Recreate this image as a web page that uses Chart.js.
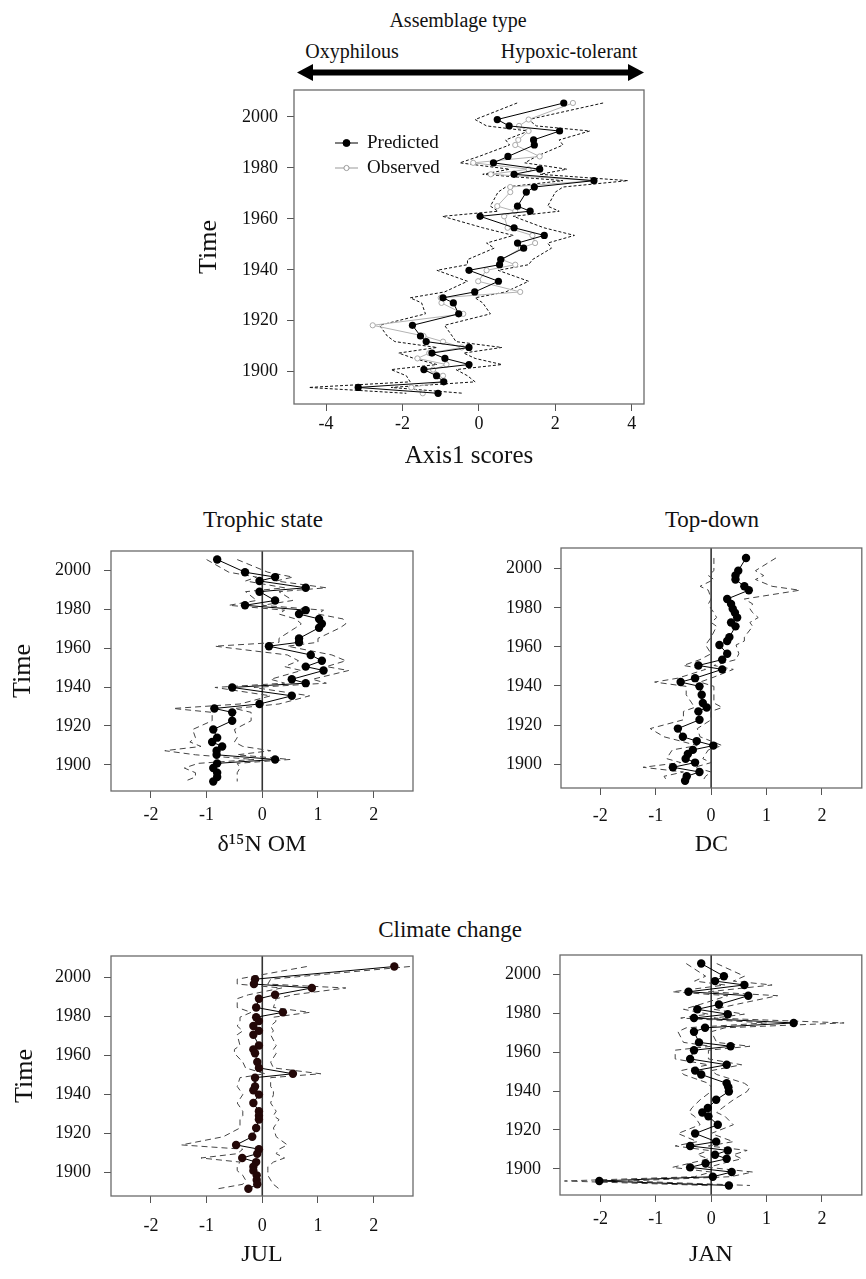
<!DOCTYPE html>
<html>
<head>
<meta charset="utf-8">
<script src="https://cdn.jsdelivr.net/npm/chart.js@4.4.1/dist/chart.umd.min.js"></script>
<style>
  body { margin: 0; background: #fff; width: 866px; height: 1279px; position: relative; overflow: hidden;
         font-family: "Liberation Serif", "Times New Roman", serif; }
  canvas { position: absolute; }
  .lbl { position: absolute; transform: translate(-50%, -50%); white-space: nowrap; color: #111; }
</style>
</head>
<body>
<div class="lbl" style="left:458px;top:20px;font-size:20px">Assemblage type</div>
<div class="lbl" style="left:352px;top:51px;font-size:20px">Oxyphilous</div>
<div class="lbl" style="left:569px;top:51px;font-size:20px">Hypoxic-tolerant</div>
<svg style="position:absolute;left:0;top:0" width="866" height="100">
  <path d="M297,72.5 L313,64 L313,69.5 L628,69.5 L628,64 L644,72.5 L628,81 L628,75.5 L313,75.5 L313,81 Z" fill="#000"/>
</svg>
<div class="lbl" style="left:263px;top:520px;font-size:23px">Trophic state</div>
<div class="lbl" style="left:712px;top:520px;font-size:23px">Top-down</div>
<div class="lbl" style="left:450px;top:930px;font-size:23px">Climate change</div>

<canvas id="cAxis" width="490" height="415" style="left:170px;top:60px"></canvas>
<canvas id="cTroph" width="430" height="370" style="left:0px;top:500px"></canvas>
<canvas id="cTop" width="416" height="370" style="left:450px;top:500px"></canvas>
<canvas id="cJul" width="430" height="379" style="left:0px;top:900px"></canvas>
<canvas id="cJan" width="416" height="379" style="left:450px;top:900px"></canvas>

<script>
// sampling years (shared by all panels)
var years = [2005.5, 1999, 1996.5, 1994.5, 1991, 1989, 1984.5, 1982, 1979.5, 1977.5,
             1975, 1972.5, 1970.5, 1965, 1963, 1961, 1956.5, 1953.5, 1950.5, 1948.5,
             1944, 1942, 1939.8, 1935.5, 1931.3, 1929, 1927, 1922.7, 1918.2, 1914,
             1911.8, 1909.5, 1907.3, 1905.2, 1902.8, 1900.8, 1898.4, 1896, 1893.8, 1891.5];

// Assemblage type (Axis1 scores)
var axis1Pred = [2.22, 0.48, 0.79, 2.11, 1.43, 1.45, 0.76, 0.38, 1.59, 0.92,
                 3.01, 1.45, 1.24, 1.01, 1.34, 0.03, 0.92, 1.71, 1.01, 1.17,
                 0.57, 0.54, -0.26, 0.51, -0.11, -0.94, -0.67, -0.53, -1.74, -1.53,
                 -1.38, -0.26, -1.23, -0.89, -0.26, -1.44, -1.11, -0.92, -3.16, -1.07];
var axis1Obs = [2.46, 1.30, 1.05, 1.30, 1.03, 0.95, 1.59, -0.15, 1.30, 0.31,
                3.01, 0.82, 0.82, 0.48, 0.95, 0.66, 0.75, 1.40, 1.47, 1.10,
                0.60, 0.95, 0.20, -0.02, 1.08, -1.00, -0.98, -0.41, -2.78, -1.45,
                -0.94, -0.45, -1.30, -1.61, -0.85, -1.20, -0.94, -0.95, -1.77, -1.47];
var axis1Lo = [1.00, -0.10, 0.20, 1.30, 0.70, 0.80, 0.00, -0.50, 0.80, 0.10,
               2.20, 0.70, 0.50, 0.30, 0.50, -0.95, 0.10, 0.90, 0.20, 0.40,
               -0.30, -0.30, -1.10, -0.30, -0.90, -1.80, -1.50, -1.40, -2.60, -2.40,
               -2.20, -1.10, -2.10, -1.70, -1.10, -2.30, -1.90, -1.80, -4.45, -1.90];
var axis1Hi = [3.25, 1.30, 1.50, 2.90, 2.10, 2.20, 1.50, 1.20, 2.30, 1.60,
               3.90, 2.20, 2.00, 1.80, 2.10, 0.90, 1.70, 2.50, 1.80, 1.90,
               1.40, 1.30, 0.50, 1.30, 0.70, -0.10, 0.10, 0.30, -0.90, -0.70,
               -0.60, 0.60, -0.40, -0.10, 0.60, -0.60, -0.30, -0.10, -2.30, -0.40];

// Trophic state (d15N OM)
var d15nPred = [-0.81, -0.31, 0.23, -0.05, 0.78, -0.05, 0.23, -0.31, 0.78, 0.66,
                1.02, 1.07, 1.02, 0.66, 0.66, 0.12, 0.87, 1.07, 0.78, 1.10,
                0.53, 0.78, -0.54, 0.53, -0.05, -0.86, -0.54, -0.54, -0.88, -0.81,
                -0.90, -0.72, -0.82, -0.82, 0.23, -0.81, -0.88, -0.81, -0.81, -0.88];
var d15nLo = [-1.00, -0.60, -0.10, -0.30, 0.40, -0.30, -0.10, -0.60, 0.40, 0.30,
              0.60, 0.70, 0.60, 0.30, 0.30, -0.85, 0.45, 0.65, 0.40, 0.70,
              0.15, 0.40, -0.85, 0.15, -0.40, -1.60, -0.90, -0.90, -1.25, -1.20,
              -1.30, -1.10, -1.75, -1.20, -0.15, -1.15, -1.40, -1.20, -1.20, -1.40];
var d15nHi = [-0.45, 0.10, 0.55, 0.25, 1.15, 0.30, 0.55, 0.00, 1.10, 1.00,
              1.45, 1.50, 1.40, 1.00, 1.00, 0.45, 1.25, 1.50, 1.15, 1.55,
              0.90, 1.15, -0.15, 0.85, 0.30, -0.50, -0.20, -0.20, -0.50, -0.45,
              -0.50, -0.35, 0.15, -0.45, 0.50, -0.45, -0.40, -0.45, -0.45, -0.45];

// Top-down (DC)
var dcPred = [0.63, 0.49, 0.44, 0.44, 0.60, 0.68, 0.29, 0.36, 0.39, 0.43,
              0.47, 0.36, 0.44, 0.33, 0.29, 0.15, 0.29, 0.20, -0.23, 0.20,
              -0.29, -0.55, -0.21, -0.17, -0.15, -0.08, -0.23, -0.21, -0.60, -0.51,
              -0.26, 0.04, -0.33, -0.42, -0.46, -0.29, -0.69, -0.21, -0.44, -0.47];
var dcLo = [0.05, 0.05, -0.05, 0.05, -0.20, -0.05, 0.00, -0.05, 0.00, 0.05,
            0.10, 0.00, 0.10, 0.00, -0.05, -0.10, 0.00, -0.20, -0.50, -0.10,
            -0.60, -1.02, -0.45, -0.45, -0.35, -0.30, -0.50, -0.50, -1.10, -0.85,
            -0.55, -0.25, -0.70, -0.75, -0.80, -0.55, -1.23, -0.50, -0.85, -0.80];
var dcHi = [1.17, 0.80, 0.95, 0.80, 1.10, 1.60, 0.60, 0.75, 0.70, 0.75,
            0.85, 0.70, 0.75, 0.60, 0.60, 0.45, 0.50, 0.45, 0.05, 0.40,
            0.00, -0.20, 0.05, 0.05, 0.05, 0.20, 0.00, 0.00, -0.25, -0.20,
            0.00, 0.20, -0.05, -0.10, -0.15, 0.00, -0.30, 0.00, -0.10, -0.15];

// Climate change (JUL)
var julPred = [2.37, -0.13, -0.15, 0.89, 0.23, -0.06, -0.11, 0.37, -0.11, -0.06,
               -0.16, -0.06, -0.16, -0.06, -0.16, -0.13, -0.09, -0.06, 0.55, -0.13,
               -0.13, -0.16, -0.06, -0.16, -0.06, -0.06, -0.06, -0.11, -0.18, -0.47,
               -0.06, -0.09, -0.36, -0.11, -0.16, -0.16, -0.10, -0.10, -0.09, -0.25];
var julLo = [0.80, -0.45, -0.45, 0.35, -0.25, -0.45, -0.45, -0.20, -0.40, -0.40,
             -0.45, -0.35, -0.45, -0.40, -0.50, -0.50, -0.35, -0.30, 0.05, -0.40,
             -0.45, -0.40, -0.35, -0.45, -0.35, -0.35, -0.40, -0.40, -0.70, -1.45,
             -0.35, -0.45, -1.10, -0.40, -0.45, -0.45, -0.35, -0.30, -0.35, -0.80];
var julHi = [2.65, 0.15, 0.10, 1.50, 0.55, 0.25, 0.20, 0.85, 0.20, 0.25,
             0.15, 0.20, 0.15, 0.25, 0.20, 0.25, 0.15, 0.20, 1.05, 0.15,
             0.15, 0.20, 0.20, 0.15, 0.25, 0.20, 0.30, 0.20, 0.25, 0.45,
             0.30, 0.25, 0.40, 0.20, 0.10, 0.10, 0.10, 0.15, 0.20, 0.30];

// Climate change (JAN)
var janPred = [-0.18, 0.23, 0.07, 0.60, -0.41, 0.67, 0.14, -0.25, 0.30, -0.31,
               1.49, -0.11, -0.31, -0.22, 0.35, -0.31, -0.38, 0.28, -0.29, -0.18,
               0.28, 0.31, 0.32, 0.09, -0.06, -0.16, -0.05, 0.12, -0.29, 0.09,
               -0.38, 0.30, 0.07, 0.28, -0.10, -0.38, 0.37, 0.03, -2.02, 0.32];
var janLo = [-0.45, -0.10, -0.30, 0.25, -0.70, 0.30, -0.20, -0.50, -0.05, -0.55,
             1.00, -0.45, -0.60, -0.50, 0.00, -0.65, -0.65, -0.05, -0.55, -0.50,
             -0.05, 0.00, 0.00, -0.20, -0.35, -0.40, -0.30, -0.20, -0.60, -0.25,
             -0.65, -0.05, -0.25, -0.05, -0.40, -0.70, 0.00, -0.30, -2.65, -0.05];
var janHi = [0.10, 0.60, 0.40, 1.10, -0.05, 1.20, 0.45, 0.05, 0.60, 0.05,
             2.40, 0.25, 0.00, 0.10, 0.70, -0.05, -0.05, 0.55, 0.00, 0.10,
             0.60, 0.70, 0.65, 0.40, 0.20, 0.10, 0.25, 0.40, 0.00, 0.40,
             -0.05, 0.65, 0.40, 0.55, 0.20, -0.05, 0.75, 0.35, -1.50, 0.70];

var serif = '"Liberation Serif", "Times New Roman", serif';

function pts(vals) {
  return vals.map(function (v, i) { return { x: v, y: years[i] }; });
}

var framePlugin = {
  id: 'frame',
  afterDatasetsDraw: function (chart) {
    var a = chart.chartArea, c = chart.ctx;
    c.save();
    c.strokeStyle = '#6a6a6a';
    c.lineWidth = 1.3;
    c.strokeRect(a.left, a.top, a.right - a.left, a.bottom - a.top);
    c.restore();
  }
};

var zeroPlugin = {
  id: 'zeroLine',
  beforeDatasetsDraw: function (chart) {
    var a = chart.chartArea, c = chart.ctx;
    var x0 = chart.scales.x.getPixelForValue(0);
    c.save();
    c.strokeStyle = '#333';
    c.lineWidth = 1.6;
    c.beginPath();
    c.moveTo(x0, a.top);
    c.lineTo(x0, a.bottom);
    c.stroke();
    c.restore();
  }
};

var legendPlugin = {
  id: 'innerLegend',
  afterDraw: function (chart) {
    var a = chart.chartArea, c = chart.ctx;
    var rows = [
      { text: 'Predicted', color: '#000', fill: '#000', y: a.top + 53 },
      { text: 'Observed', color: '#999', fill: '#fff', y: a.top + 78 }
    ];
    c.save();
    rows.forEach(function (r) {
      c.strokeStyle = r.color;
      c.lineWidth = 1;
      c.beginPath();
      c.moveTo(a.left + 41, r.y);
      c.lineTo(a.left + 64, r.y);
      c.stroke();
      c.beginPath();
      c.arc(a.left + 52.5, r.y, r.fill === '#000' ? 3.5 : 2.6, 0, Math.PI * 2);
      c.fillStyle = r.fill;
      c.fill();
      c.stroke();
      c.fillStyle = '#111';
      c.font = '19px ' + serif;
      c.textBaseline = 'middle';
      c.fillText(r.text, a.left + 73, r.y);
    });
    c.restore();
  }
};

function panel(id, o) {
  var ds = [{
    data: pts(o.pred), showLine: true, borderColor: '#000', backgroundColor: o.dot,
    borderWidth: 1, pointRadius: o.r, pointBorderWidth: 0, order: 0
  }];
  if (o.obs) {
    ds.push({
      data: pts(o.obs), showLine: true, borderColor: '#b3b3b3', backgroundColor: '#fff',
      borderWidth: 1, pointRadius: 2.6, pointBorderWidth: 1, pointBorderColor: '#aaa', order: 1
    });
  }
  [o.lo, o.hi].forEach(function (band) {
    ds.push({
      data: pts(band), showLine: true, borderColor: o.dashColor, borderWidth: 1,
      borderDash: o.dash, pointRadius: 0, order: 2
    });
  });

  var plugins = [framePlugin];
  if (o.zero) plugins.push(zeroPlugin);
  if (o.legend) plugins.push(legendPlugin);

  new Chart(document.getElementById(id), {
    type: 'scatter',
    data: { datasets: ds },
    options: {
      responsive: false,
      animation: false,
      devicePixelRatio: 1,
      layout: { padding: { top: o.padTop, right: o.padRight, bottom: 0, left: 0 } },
      plugins: { legend: { display: false }, tooltip: { enabled: false } },
      scales: {
        x: {
          type: 'linear', min: o.xmin, max: o.xmax,
          afterFit: function (s) { s.height = o.xh; },
          border: { display: false },
          grid: { drawOnChartArea: false, tickLength: 7, color: '#555' },
          ticks: {
            stepSize: o.xstep, includeBounds: false, maxRotation: 0, autoSkip: false,
            padding: o.xtp, color: '#111', font: { family: serif, size: 18 },
            callback: function (v) { return String(v); }
          },
          title: {
            display: true, text: o.xlabel, color: '#111',
            font: { family: serif, size: o.xfs || 24 }, padding: { top: 0, bottom: o.xtb }
          }
        },
        y: {
          type: 'linear', min: o.ymin, max: o.ymax,
          afterFit: function (s) { s.width = o.yw; },
          border: { display: false },
          grid: { drawOnChartArea: false, tickLength: 7, color: '#555' },
          ticks: {
            stepSize: 20, includeBounds: false, padding: o.ytp, color: '#111',
            font: { family: serif, size: 18 },
            callback: function (v) { return String(v); }
          },
          title: {
            display: !!o.ylabel, text: o.ylabel || '', color: '#111',
            font: { family: serif, size: 26 }, padding: { top: o.ytt || 0, bottom: 0 }
          }
        }
      }
    },
    plugins: plugins
  });
}

panel('cAxis', {
  pred: axis1Pred, obs: axis1Obs, lo: axis1Lo, hi: axis1Hi,
  dot: '#000', r: 3.6, dash: [3, 2], dashColor: '#111', legend: true,
  xmin: -4.84, xmax: 4.32, xstep: 2, ymin: 1887.3, ymax: 2010.6,
  padTop: 30, padRight: 16, xh: 71, yw: 124, xtp: 2, xtb: 4, xfs: 25, ytp: 9, ytt: 24,
  xlabel: 'Axis1 scores', ylabel: 'Time'
});

panel('cTroph', {
  pred: d15nPred, lo: d15nLo, hi: d15nHi,
  dot: '#000', r: 4.2, dash: [6, 4], dashColor: '#444', zero: true,
  xmin: -2.716, xmax: 2.706, xstep: 1, ymin: 1886.6, ymax: 2009.9,
  padTop: 51, padRight: 17, xh: 79, yw: 111, xtp: 6, xtb: 10.6, ytp: 13, ytt: 7.4,
  xlabel: 'δ¹⁵N OM', ylabel: 'Time'
});

panel('cTop', {
  pred: dcPred, lo: dcLo, hi: dcHi,
  dot: '#000', r: 4.2, dash: [6, 4], dashColor: '#444', zero: true,
  xmin: -2.71, xmax: 2.72, xstep: 1, ymin: 1887.8, ymax: 2010.6,
  padTop: 48, padRight: 3, xh: 82, yw: 111, xtp: 10, xtb: 10.6, ytp: 12,
  xlabel: 'DC'
});

panel('cJul', {
  pred: julPred, lo: julLo, hi: julHi,
  dot: '#230808', r: 4.2, dash: [6, 4], dashColor: '#444', zero: true,
  xmin: -2.716, xmax: 2.706, xstep: 1, ymin: 1887.8, ymax: 2010.9,
  padTop: 56, padRight: 17, xh: 83, yw: 111, xtp: 12, xtb: 9.6, ytp: 13, ytt: 9.4,
  xlabel: 'JUL', ylabel: 'Time'
});

panel('cJan', {
  pred: janPred, lo: janLo, hi: janHi,
  dot: '#000', r: 4.2, dash: [6, 4], dashColor: '#444', zero: true,
  xmin: -2.73, xmax: 2.72, xstep: 1, ymin: 1886.6, ymax: 2009.9,
  padTop: 55, padRight: 3, xh: 84, yw: 110, xtp: 6, xtb: 9.6, ytp: 12,
  xlabel: 'JAN'
});
</script>
</body>
</html>
